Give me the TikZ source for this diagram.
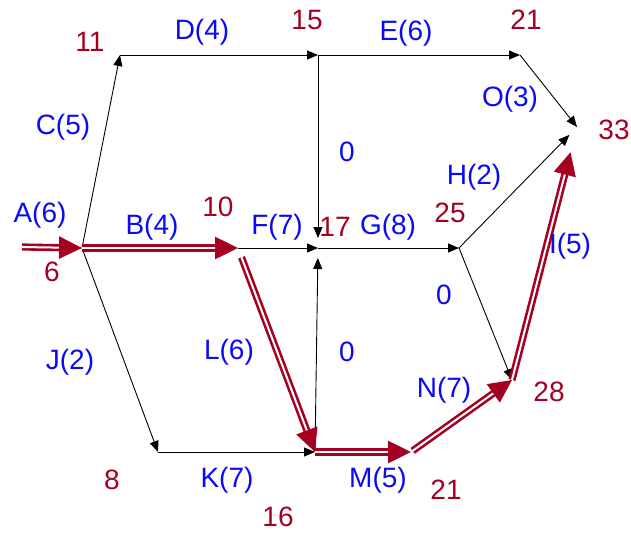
\documentclass[tikz,border=0pt]{standalone}
\usepackage{fontspec}
\setmainfont{Liberation Sans}
\usetikzlibrary{arrows.meta}
\definecolor{pnred}{HTML}{A50021}
\definecolor{pnblue}{HTML}{0A0AF5}

\begin{document}
\begin{tikzpicture}[x=1pt, y=-1pt, font=\fontsize{28}{32}\selectfont,
      ac/.style={text=pnblue, inner sep=0pt},
      tm/.style={text=pnred, inner sep=0pt},
      ln/.style={draw=black, line width=0.9pt, -{Triangle[length=11pt,width=9pt]}},
      cp/.style={draw=pnred, double=white, double distance=2pt, line width=2.6pt, -{Triangle[length=23pt,width=22pt]}}]
      \useasboundingbox (0,0) rectangle (631,533);
      % events
      \coordinate (s)  at (22,247);
      \coordinate (n1) at (82,248);
      \coordinate (n2) at (120,55);
      \coordinate (n3) at (318,55);
      \coordinate (n4) at (520,55);
      \coordinate (n5) at (577,127);
      \coordinate (n6) at (238,248);
      \coordinate (n7) at (318,248);
      \coordinate (n8) at (459,248);
      \coordinate (n9) at (512,380);
      \coordinate (n10) at (315,452);
      \coordinate (n11) at (158,452);
      \coordinate (n12) at (411,452);

      % activities
      \draw[ln] (n1) -- (n2);
      \draw[ln] (n2) -- (n3);
      \draw[ln] (n3) -- (n4);
      \draw[ln] (n4) -- (n5);
      \draw[ln, shorten >=10pt] (n3) -- (n7);
      \draw[ln] (n6) -- (n7);
      \draw[ln] (n7) -- (n8);
      \draw[ln, shorten >=11pt] (n8) -- (n5);
      \draw[ln] (n8) -- (n9);
      \draw[ln] (n1) -- (n11);
      \draw[ln] (n11) -- (n10);
      \draw[ln, shorten >=10pt] (n10) -- (n7);

      % critical path
      \draw[cp] (s) -- (n1);
      \draw[cp] (n1) -- (n6);
      \draw[cp, shorten <=10pt] (n6) -- (n10);
      \draw[cp] (n10) -- (n12);
      \draw[cp, shorten <=2pt] (n12) -- (n9);
      \draw[cp, shorten >=26pt] (n9) -- (n5);

      % labels
      \node[ac] (la) at (40,215) {A(6)};
      \node[ac] (lb) at (152,227) {B(4)};
      \node[ac] (lc) at (63,127) {C(5)};
      \node[ac] (ld) at (202,32) {D(4)};
      \node[ac] (le) at (406,33) {E(6)};
      \node[ac] (lf) at (277,227) {F(7)};
      \node[ac] (lg) at (388,227) {G(8)};
      \node[ac] (lh) at (474,177) {H(2)};
      \node[ac] (li) at (570,246) {I(5)};
      \node[ac] (lj) at (70,362) {J(2)};
      \node[ac] (lk) at (227,480) {K(7)};
      \node[ac] (ll) at (229,352) {L(6)};
      \node[ac] (lm) at (378,480) {M(5)};
      \node[ac] (ln7) at (444,390) {N(7)};
      \node[ac] (lo) at (510,99) {O(3)};
      \node[ac] (d1) at (347,152) {0};
      \node[ac] (d2) at (444,295) {0};
      \node[ac] (d3) at (347,352) {0};

      % times
      \node[tm] (t1) at (52,272) {6};
      \node[tm] (t2) at (90,42) {11};
      \node[tm] (t3) at (307,20) {15};
      \node[tm] (t4) at (526,20) {21};
      \node[tm] (t5) at (614,130) {33};
      \node[tm] (t6) at (218,207) {10};
      \node[tm] (t7) at (335,227) {17};
      \node[tm] (t8) at (450,213) {25};
      \node[tm] (t9) at (549,392) {28};
      \node[tm] (t10) at (112,480) {8};
      \node[tm] (t11) at (278,517) {16};
      \node[tm] (t12) at (446,490) {21};
    \end{tikzpicture}
\end{document}
